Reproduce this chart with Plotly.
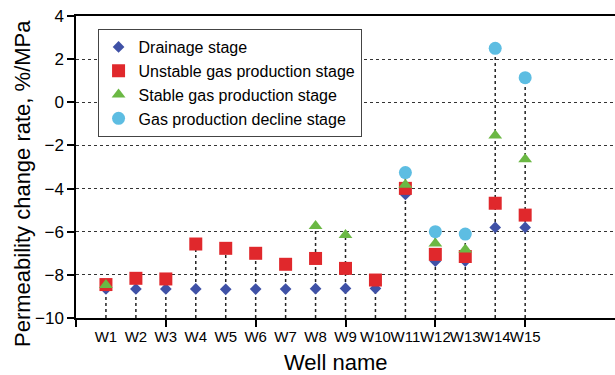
import plotly.graph_objects as go

# Wells and permeability change rate (%/MPa) for each production stage
wells = [f"W{i}" for i in range(1, 16)]
well_pos = list(range(1, 16))

drainage = [-8.65, -8.65, -8.65, -8.65, -8.67, -8.66, -8.66, -8.64, -8.63, -8.63,
            -4.27, -7.37, -7.36, -5.80, -5.80]
unstable = [-8.45, -8.16, -8.19, -6.57, -6.77, -7.00, -7.51, -7.24, -7.70, -8.24,
            -3.99, -7.05, -7.15, -4.68, -5.23]
stable = [-8.47, None, None, None, None, None, None, -5.74, -6.15, None,
          -3.82, -6.55, -6.82, -1.54, -2.64]
decline = [None, None, None, None, None, None, None, None, None, None,
           -3.26, -6.00, -6.11, 2.50, 1.14]

y_min, y_max = -10, 4
x_ticks = [0, 3, 6, 9, 12, 15]

FONT = "Liberation Sans, Arial, sans-serif"

fig = go.Figure()

# dotted drop line from the axis up to the highest value of each well
drop_x, drop_y = [], []
for i, x in enumerate(well_pos):
    top = max(v for v in (drainage[i], unstable[i], stable[i], decline[i]) if v is not None)
    drop_x += [x, x, None]
    drop_y += [y_min, top, None]
fig.add_trace(go.Scatter(x=drop_x, y=drop_y, mode="lines", showlegend=False,
                         hoverinfo="skip",
                         line=dict(color="#222222", width=1.5, dash="dot")))

series = [
    ("Drainage stage", drainage, "diamond", 9, "#3f51a6"),
    ("Unstable gas production stage", unstable, "square", 13, "#e0282c"),
    ("Stable gas production stage", stable, "triangle-up", 12, "#6bb844"),
    ("Gas production decline stage", decline, "circle", 13, "#5dbde2"),
]
for name, vals, sym, size, color in series:
    fig.add_trace(go.Scatter(x=well_pos, y=vals, mode="markers", name=name,
                             marker=dict(symbol=sym, size=size, color=color,
                                         line=dict(width=0))))

# well name labels on a second axis overlaying the first
fig.add_trace(go.Scatter(x=[None], y=[None], xaxis="x2", showlegend=False))

fig.update_layout(
    width=615, height=375,
    margin=dict(l=76, r=0, t=16, b=57),
    paper_bgcolor="white", plot_bgcolor="white",
    font=dict(family=FONT, color="black"),
    xaxis=dict(range=[0, 18], tickvals=x_ticks, showticklabels=False,
               ticks="outside", ticklen=7, tickwidth=1.5, tickcolor="black",
               showline=True, linecolor="black", linewidth=1.5, mirror=True,
               showgrid=False, zeroline=False),
    xaxis2=dict(range=[0, 18], overlaying="x", side="bottom", anchor="y",
                tickvals=well_pos, ticktext=wells, tickangle=0,
                ticks="outside", ticklen=5, tickcolor="rgba(0,0,0,0)",
                tickfont=dict(size=15, family=FONT),
                showline=False, showgrid=False, zeroline=False),
    yaxis=dict(range=[y_min, y_max], dtick=2, tick0=0,
               ticks="outside", ticklen=7, tickwidth=1.5, tickcolor="black",
               tickfont=dict(size=17, family=FONT),
               showline=True, linecolor="black", linewidth=1.5,
               showgrid=True, gridcolor="#333333", gridwidth=1, griddash="dot",
               zeroline=False),
    legend=dict(x=0.04, y=0.957, xanchor="left", yanchor="top",
                bgcolor="white", bordercolor="#444444", borderwidth=1,
                font=dict(size=16, family=FONT), tracegroupgap=0),
    annotations=[
        dict(text="Permeability change rate, %/MPa", textangle=-90,
             xref="paper", yref="paper", x=(22 - 76) / 539, y=(318 - 184) / 302,
             xanchor="center", yanchor="middle", showarrow=False,
             font=dict(size=22, family=FONT)),
        dict(text="Well name", xref="paper", yref="paper",
             x=(336 - 76) / 539, y=(318 - 362) / 302,
             xanchor="center", yanchor="middle", showarrow=False,
             font=dict(size=22, family=FONT)),
    ],
)

fig.write_html("out.html")
